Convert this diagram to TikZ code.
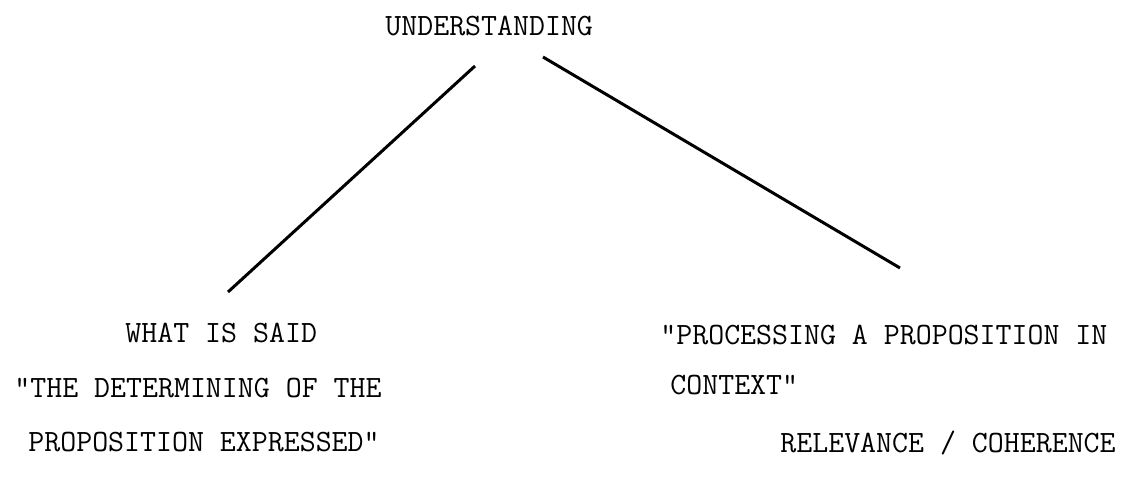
\documentclass[tikz,border=0pt]{standalone}
\usepackage{fontspec}
\begin{document}
\begin{tikzpicture}[x=0.5pt,y=-0.5pt,
  lbl/.style={inner sep=0pt,anchor=west,font=\fontsize{15.5}{18}\selectfont\ttfamily\addfontfeatures{FakeBold=2.5}},
  branch/.style={line width=1.5pt}]
\useasboundingbox (0,0) rectangle (1131,487);
\node[lbl] (und) at (385,26) {UNDERSTANDING};
\coordinate (lt) at (475,66);
\coordinate (lb) at (228,292);
\coordinate (rt) at (543,57);
\coordinate (rb) at (900,268);
\draw[branch] (lt) -- (lb);
\draw[branch] (rt) -- (rb);
\node[lbl] (wis) at (125,333) {WHAT IS SAID};
\node[lbl] (det) at (14,388) {"THE DETERMINING OF THE};
\node[lbl] (pex) at (28,442) {PROPOSITION EXPRESSED"};
\node[lbl] (ppc) at (660,335) {"PROCESSING A PROPOSITION IN};
\node[lbl] (ctx) at (670,385) {CONTEXT"};
\node[lbl] (rel) at (780,443) {RELEVANCE / COHERENCE};
\end{tikzpicture}
\end{document}
